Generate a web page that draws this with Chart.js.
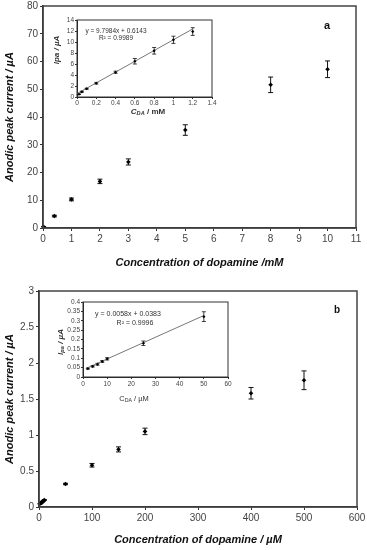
<!DOCTYPE html>
<html><head><meta charset="utf-8">
<script src="https://cdn.jsdelivr.net/npm/chart.js@4"></script>
<style>
html,body{margin:0;padding:0;background:#fff;}
#wrap{position:relative;width:367px;height:550px;overflow:hidden;font-family:"Liberation Sans",Arial,sans-serif;color:#333;}
canvas{position:absolute;}
.t{position:absolute;white-space:nowrap;transform:translate(-50%,-50%);line-height:1;}
.r{transform:translate(-50%,-50%) rotate(-90deg);}
sub{font-size:70%;vertical-align:-0.25em;}
</style></head><body>
<div id="wrap">
<canvas id="cA" style="left:0;top:0" width="367" height="275"></canvas>
<canvas id="cB" style="left:0;top:275px" width="367" height="275"></canvas>
<canvas id="cAi" style="left:45px;top:12px" width="175" height="110"></canvas>
<canvas id="cBi" style="left:50px;top:295px" width="185" height="100"></canvas>
<div class="t" style="left:327px;top:25px;font-weight:bold;font-size:11px;color:#111">a</div>
<div class="t" style="left:337px;top:310px;font-weight:bold;font-size:10px;color:#111">b</div>
<div class="t" style="left:116px;top:31px;font-size:6.5px">y = 9.7984x + 0.6143</div>
<div class="t" style="left:116px;top:37.5px;font-size:6.5px">R² = 0.9989</div>
<div class="t" style="left:128px;top:313px;font-size:7px">y = 0.0058x + 0.0383</div>
<div class="t" style="left:135px;top:322px;font-size:7px">R² = 0.9996</div>
<div class="t r" style="left:57px;top:50px;font-size:8px;font-style:italic;font-weight:bold">Ipa / µA</div>
<div class="t" style="left:148px;top:112px;font-size:8px;font-weight:bold"><i>C<sub>DA</sub></i> / mM</div>
<div class="t r" style="left:61px;top:342px;font-size:8px;font-style:italic;font-weight:bold">I<sub>pa</sub> / µA</div>
<div class="t" style="left:134px;top:399px;font-size:7.5px">C<sub>DA</sub> / µM</div>
</div>
<script>
// ---- data ----
const mainAX   = [0.02, 0.4, 1, 2, 3, 5, 8, 10];
const mainAY   = [0.45, 4.3, 10.3, 16.8, 23.8, 35.3, 51.6, 57.2];
const mainAErr = [0.1, 0.3, 0.5, 0.8, 1.1, 1.9, 2.8, 3.0];

const insetAX   = [0.02, 0.05, 0.1, 0.2, 0.4, 0.6, 0.8, 1.0, 1.2];
const insetAY   = [0.5, 0.95, 1.5, 2.5, 4.5, 6.5, 8.4, 10.4, 11.9];
const insetAErr = [0.05, 0.1, 0.1, 0.15, 0.2, 0.5, 0.6, 0.65, 0.7];
const trendAX = [0, 1.2];
const trendAY = [0.61, 12.37];

const mainBX   = [2, 4, 6, 8, 10, 50, 100, 150, 200, 400, 500];
const mainBY   = [0.045, 0.057, 0.068, 0.083, 0.097, 0.32, 0.58, 0.80, 1.05, 1.58, 1.76];
const mainBErr = [0.003, 0.004, 0.005, 0.005, 0.006, 0.01, 0.025, 0.035, 0.045, 0.08, 0.13];

const insetBX   = [2, 4, 6, 8, 10, 25, 50];
const insetBY   = [0.045, 0.057, 0.068, 0.083, 0.097, 0.18, 0.322];
const insetBErr = [0.003, 0.004, 0.005, 0.005, 0.006, 0.012, 0.026];
const trendBX = [2, 50];
const trendBY = [0.05, 0.328];

const titleAX = 'Concentration of dopamine /mM';
const titleBX = 'Concentration of dopamine / µM';
const titleY  = 'Anodic peak current / µA';

// ---- helpers ----
const FAM = '"Liberation Sans", Arial, sans-serif';
const pts = (xs, ys) => xs.map((x, i) => ({x: x, y: ys[i]}));
const fmt = v => String(Math.round(v * 1000) / 1000);

const errPlugin = {
  id: 'errbars',
  beforeDatasetsDraw(chart, args, o) {
    if (!o || !o.err) return;
    const meta = chart.getDatasetMeta(0);
    const ds = chart.data.datasets[0];
    const ys = chart.scales.y;
    const ctx = chart.ctx;
    ctx.save();
    ctx.strokeStyle = '#111';
    ctx.lineWidth = o.lw || 1;
    meta.data.forEach((p, i) => {
      const v = ds.data[i].y, e = o.err[i];
      const y1 = ys.getPixelForValue(v + e), y2 = ys.getPixelForValue(v - e);
      const x = p.x, c = o.cap;
      ctx.beginPath();
      ctx.moveTo(x, y1); ctx.lineTo(x, y2);
      ctx.moveTo(x - c, y1); ctx.lineTo(x + c, y1);
      ctx.moveTo(x - c, y2); ctx.lineTo(x + c, y2);
      ctx.stroke();
    });
    ctx.restore();
  }
};
const framePlugin = {
  id: 'frame',
  afterDraw(chart, args, o) {
    const a = chart.chartArea, ctx = chart.ctx;
    ctx.save();
    ctx.strokeStyle = o.color || '#444';
    ctx.lineWidth = o.lw || 1;
    ctx.strokeRect(a.left, a.top, a.right - a.left, a.bottom - a.top);
    ctx.restore();
  }
};

function makeChart(id, cfg) {
  const datasets = [{
    data: pts(cfg.xs, cfg.ys),
    showLine: false,
    pointStyle: 'rectRot',
    pointRadius: cfg.pr,
    pointBackgroundColor: '#000',
    pointBorderColor: '#000',
    pointBorderWidth: 0
  }];
  if (cfg.tx) {
    datasets.push({
      data: pts(cfg.tx, cfg.ty),
      showLine: true,
      borderColor: '#777',
      borderWidth: 1,
      pointRadius: 0
    });
  }
  const tickFont = {family: FAM, size: cfg.fs};
  return new Chart(document.getElementById(id), {
    type: 'scatter',
    data: {datasets: datasets},
    plugins: [errPlugin, framePlugin],
    options: {
      responsive: false,
      animation: false,
      devicePixelRatio: 1,
      layout: {padding: cfg.pad},
      plugins: {
        legend: {display: false},
        tooltip: {enabled: false},
        errbars: {err: cfg.err, cap: cfg.cap, lw: cfg.elw},
        frame: {color: cfg.frame, lw: cfg.flw}
      },
      scales: {
        x: {
          type: 'linear', min: cfg.xmin, max: cfg.xmax,
          ticks: {stepSize: cfg.xstep, font: tickFont, color: '#444', padding: cfg.txp, maxRotation: 0, autoSkip: false, callback: fmt},
          grid: {display: true, drawOnChartArea: false, drawTicks: true, tickLength: cfg.tl, color: '#333'},
          border: {display: true, color: '#222', width: cfg.flw},
          title: cfg.xt ? {display: true, text: cfg.xt, font: {family: FAM, size: 11, weight: 'bold', style: 'italic'}, color: '#111', padding: {top: 0, bottom: cfg.xtp}} : {display: false},
          afterFit: s => { s.height = cfg.xh; s.paddingLeft = 0; s.paddingRight = 0; }
        },
        y: {
          type: 'linear', min: cfg.ymin, max: cfg.ymax,
          ticks: {stepSize: cfg.ystep, font: tickFont, color: '#444', padding: cfg.tp, autoSkip: false, callback: fmt},
          grid: {display: true, drawOnChartArea: false, drawTicks: true, tickLength: cfg.tl, color: '#333'},
          border: {display: true, color: '#222', width: cfg.flw},
          title: cfg.yt ? {display: true, text: cfg.yt, font: {family: FAM, size: 11, weight: 'bold', style: 'italic'}, color: '#111', padding: {top: cfg.ytp, bottom: 0}} : {display: false},
          afterFit: s => { s.width = cfg.yw; s.paddingTop = 0; s.paddingBottom = 0; }
        }
      }
    }
  });
}

// main panel a
makeChart('cA', {
  xs: mainAX, ys: mainAY, err: mainAErr, pr: 2.3, cap: 2.5, elw: 1,
  xmin: 0, xmax: 11, xstep: 1, ymin: 0, ymax: 80, ystep: 10,
  fs: 10, tp: 2, txp: 2, tl: 3, frame: '#444', flw: 1.5,
  pad: {left: 0, right: 11, top: 6, bottom: 0},
  xh: 47, yw: 43, xt: titleAX, yt: titleY, xtp: 5, ytp: 3.5
});
// main panel b
makeChart('cB', {
  xs: mainBX, ys: mainBY, err: mainBErr, pr: 2.3, cap: 2.5, elw: 1,
  xmin: 0, xmax: 600, xstep: 100, ymin: 0, ymax: 3, ystep: 0.5,
  fs: 10, tp: 2, txp: 2, tl: 3, frame: '#444', flw: 1.5,
  pad: {left: 0, right: 10, top: 16, bottom: 0},
  xh: 43, yw: 39, xt: titleBX, yt: titleY, xtp: 3.4, ytp: 3.5
});
// inset a
makeChart('cAi', {
  xs: insetAX, ys: insetAY, err: insetAErr, tx: trendAX, ty: trendAY, pr: 1.6, cap: 2, elw: 0.8,
  xmin: 0, xmax: 1.4, xstep: 0.2, ymin: 0, ymax: 14, ystep: 2,
  fs: 6.5, tp: 1, txp: 0, tl: 2, frame: '#333', flw: 1,
  pad: {left: 0, right: 8, top: 8, bottom: 0},
  xh: 25, yw: 32
});
// inset b
makeChart('cBi', {
  xs: insetBX, ys: insetBY, err: insetBErr, tx: trendBX, ty: trendBY, pr: 1.6, cap: 2, elw: 0.8,
  xmin: 0, xmax: 60, xstep: 10, ymin: 0, ymax: 0.4, ystep: 0.05,
  fs: 6.5, tp: 1, txp: 1, tl: 2, frame: '#333', flw: 1,
  pad: {left: 0, right: 7, top: 7, bottom: 0},
  xh: 18, yw: 33
});
</script>
</body></html>
